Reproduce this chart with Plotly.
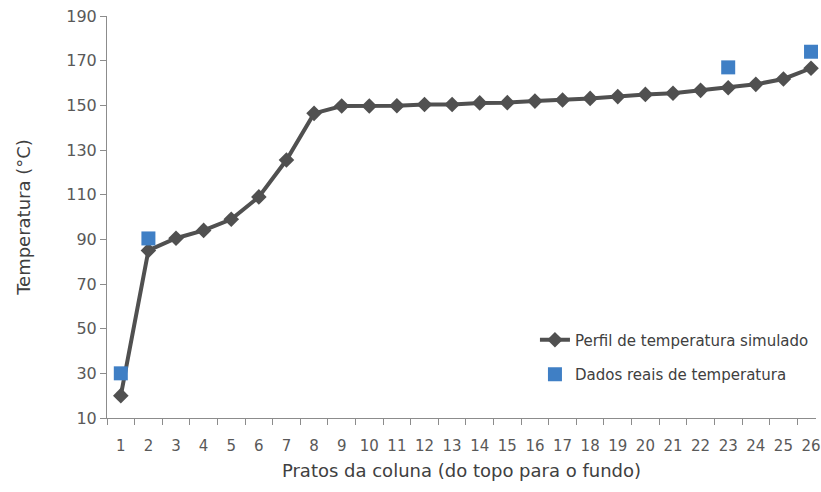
import plotly.graph_objects as go

pratos = list(range(1, 27))
temp_simulada = [20, 85, 90.5, 94, 99, 109, 125.5, 146.4, 149.7, 149.7, 149.8, 150.4, 150.4,
                 151.1, 151.2, 151.9, 152.4, 153.1, 153.9, 154.9, 155.4, 156.7, 157.9, 159.4,
                 161.8, 166.6]
pratos_reais = [1, 2, 23, 26]
temp_reais = [30, 90.4, 167, 174]
x_ticks = [str(i) for i in pratos]
y_ticks = list(range(10, 191, 20))

fig = go.Figure()
fig.add_trace(go.Scatter(
    x=pratos, y=temp_simulada, mode="lines+markers",
    name="Perfil de temperatura simulado", legendgroup="a",
    line=dict(color="#505050", width=4),
    marker=dict(symbol="diamond", size=12, color="#505050"),
    cliponaxis=False,
))
fig.add_trace(go.Scatter(
    x=pratos_reais, y=temp_reais, mode="markers",
    name="Dados reais de temperatura", legendgroup="b",
    marker=dict(symbol="square", size=14, color="#3f7fc5"),
    cliponaxis=False,
))

fig.update_layout(
    width=821, height=492,
    margin=dict(l=107, r=0, t=16, b=74),
    plot_bgcolor="white", paper_bgcolor="white",
    font=dict(family="DejaVu Sans", color="#595959", size=14),
    legend=dict(x=0.6036, y=0.235, xanchor="left", yanchor="top",
                bgcolor="rgba(0,0,0,0)", tracegroupgap=12, itemwidth=30,
                font=dict(size=15, color="#404040")),
    xaxis=dict(
        range=[0.5, 26.18], tickmode="array", tickvals=pratos, ticktext=x_ticks,
        ticks="", showline=True, linecolor="#8c8c8c", linewidth=1,
        showgrid=False, zeroline=False, ticklabeloverflow="allow",
        ticklabelstandoff=14,
        tickfont=dict(size=15, color="#595959"),
        minor=dict(tick0=0.5, dtick=1, ticks="outside", ticklen=6, tickcolor="#8c8c8c", showgrid=False),
        title=dict(text="Pratos da coluna (do topo para o fundo)", font=dict(size=18, color="#404040"), standoff=10),
    ),
    yaxis=dict(
        range=[10, 190], tickmode="array", tickvals=y_ticks,
        ticks="outside", ticklen=6, tickcolor="#8c8c8c",
        showline=True, linecolor="#8c8c8c", linewidth=1,
        showgrid=False, zeroline=False,
        tickfont=dict(size=16, color="#595959"),
        title=dict(text="Temperatura (°C)", font=dict(size=18, color="#404040"), standoff=30),
    ),
)

fig.write_html("out.html")
